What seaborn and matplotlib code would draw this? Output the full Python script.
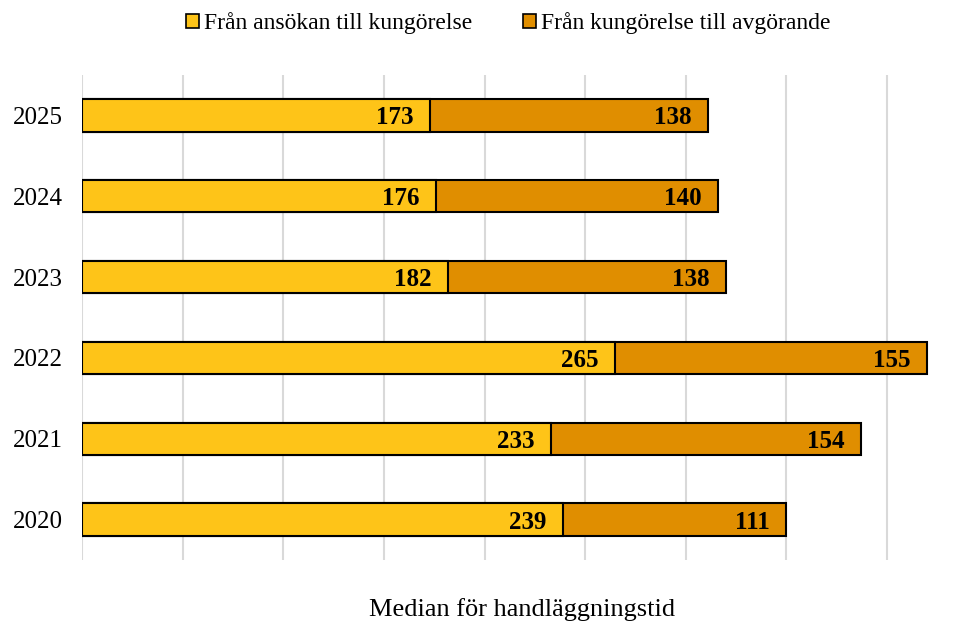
import matplotlib
matplotlib.use("Agg")
import matplotlib.pyplot as plt
import numpy as np
import pandas as pd
import seaborn as sns
from matplotlib.patches import Patch

sns.set_theme(style="white")
plt.rcParams["font.family"] = ["Liberation Serif", "DejaVu Serif"]
plt.rcParams["text.color"] = "black"
plt.rcParams["ytick.color"] = "black"
plt.rcParams["xtick.color"] = "black"

# Data
years = ["2025", "2024", "2023", "2022", "2021", "2020"]
ansokan_till_kungorelse = [173, 176, 182, 265, 233, 239]
kungorelse_till_avgorande = [138, 140, 138, 155, 154, 111]
series_names = ["Från ansökan till kungörelse", "Från kungörelse till avgörande"]
colors = ["#FEC418", "#E08E00"]

df = pd.DataFrame({
    "year": years,
    "first": ansokan_till_kungorelse,
    "second": kungorelse_till_avgorande,
})
df["total"] = df["first"] + df["second"]

fig = plt.figure(figsize=(9.74, 6.24), dpi=100)
ax = fig.add_axes([82 / 974, 1 - 560 / 624, 1 - 82 / 974, 485 / 624])

# Stacked: draw totals first, then first segment on top
sns.barplot(data=df, x="total", y="year", order=years, color=colors[1],
            edgecolor="black", linewidth=1.5, width=0.4, ax=ax, saturation=1)
sns.barplot(data=df, x="first", y="year", order=years, color=colors[0],
            edgecolor="black", linewidth=1.5, width=0.4, ax=ax, saturation=1)

for i, row in df.iterrows():
    ax.annotate(f"{row['first']}", (row["first"], i), xytext=(-12, 0),
                textcoords="offset points", ha="right", va="center_baseline",
                fontsize=18, fontweight="bold", color="black")
    ax.annotate(f"{row['second']}", (row["total"], i), xytext=(-12, 0),
                textcoords="offset points", ha="right", va="center_baseline",
                fontsize=18, fontweight="bold", color="black")

ax.set_xlim(0, 892 / 2.0125)
ax.set_ylim(5.5, -0.5)
ax.set_xticks(np.arange(0, 401, 50))
ax.set_xticklabels([])
ax.xaxis.grid(True, color="#D9D9D9", linewidth=1.5)
ax.set_axisbelow(True)
for s in ax.spines.values():
    s.set_visible(False)
ax.tick_params(axis="both", length=0)
ax.tick_params(axis="y", labelsize=18, pad=14)
ax.set_ylabel("")
ax.set_xlabel("")

fig.text(522 / 974, 1 - 610 / 624, "Median för handläggningstid",
         ha="center", va="center", fontsize=19)

handles = [Patch(facecolor=c, edgecolor="black", linewidth=1.2) for c in colors]
fig.legend(handles, series_names, loc="center", bbox_to_anchor=(508.5 / 974, 1 - 23 / 624),
           ncol=2, frameon=False, fontsize=17, handlelength=0.55, handleheight=0.55,
           handletextpad=0.2, columnspacing=2.16)

fig.savefig("out.png", dpi=100)
